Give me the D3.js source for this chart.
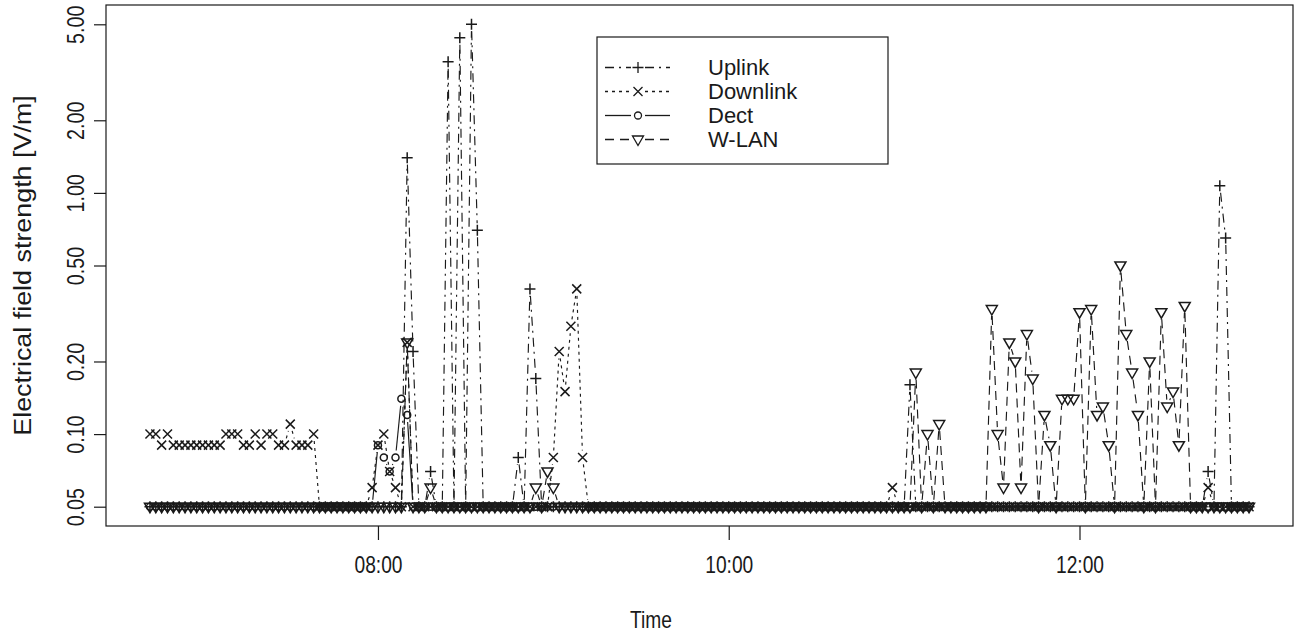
<!DOCTYPE html>
<html>
<head>
<meta charset="utf-8">
<script src="https://cdn.jsdelivr.net/npm/d3@7"></script>
<style>
  body { margin: 0; background: #fff; }
  svg text { font-family: "Liberation Sans", Arial, Helvetica, sans-serif; fill: #1a1a1a; }
</style>
</head>
<body>
<div id="chart"></div>
<script>
// readings taken every 2 minutes, 06:42 .. 12:58 (0.05 V/m = detection limit)
const startTime = "06:42";
const stepMinutes = 2;

// one row = half an hour (15 readings)
const uplink = [
  .05, .05, .05, .05, .05, .05, .05, .05, .05, .05, .05, .05, .05, .05, .05,
  .05, .05, .05, .05, .05, .05, .05, .05, .05, .05, .05, .05, .05, .05, .05,
  .05, .05, .05, .05, .05, .05, .05, .05, .05, .05, .05, .05, .05, .05, 1.4,
  .22, .05, .05, .07, .05, .05, 3.5, .05, 4.4, .05, 5.0, .70, .05, .05, .05,
  .05, .05, .05, .08, .05, .40, .17, .05, .05, .05, .05, .05, .05, .05, .05,
  .05, .05, .05, .05, .05, .05, .05, .05, .05, .05, .05, .05, .05, .05, .05,
  .05, .05, .05, .05, .05, .05, .05, .05, .05, .05, .05, .05, .05, .05, .05,
  .05, .05, .05, .05, .05, .05, .05, .05, .05, .05, .05, .05, .05, .05, .05,
  .05, .05, .05, .05, .05, .05, .05, .05, .05, .05, .16, .05, .05, .05, .05,
  .05, .05, .05, .05, .05, .05, .05, .05, .05, .05, .05, .05, .05, .05, .05,
  .05, .05, .05, .05, .05, .05, .05, .05, .05, .05, .05, .05, .05, .05, .05,
  .05, .05, .05, .05, .05, .05, .05, .05, .05, .05, .05, .05, .05, .05, .05,
  .05, .07, .05, 1.07, .65, .05, .05, .05, .05
];

const downlink = [
  .10, .10, .09, .10, .09, .09, .09, .09, .09, .09, .09, .09, .09, .10, .10,
  .10, .09, .09, .10, .09, .10, .10, .09, .09, .11, .09, .09, .09, .10, .05,
  .05, .05, .05, .05, .05, .05, .05, .05, .06, .09, .10, .07, .06, .05, .24,
  .05, .05, .05, .05, .05, .05, .05, .05, .05, .05, .05, .05, .05, .05, .05,
  .05, .05, .05, .05, .05, .05, .05, .05, .05, .08, .22, .15, .28, .40, .08,
  .05, .05, .05, .05, .05, .05, .05, .05, .05, .05, .05, .05, .05, .05, .05,
  .05, .05, .05, .05, .05, .05, .05, .05, .05, .05, .05, .05, .05, .05, .05,
  .05, .05, .05, .05, .05, .05, .05, .05, .05, .05, .05, .05, .05, .05, .05,
  .05, .05, .05, .05, .05, .05, .05, .06, .05, .05, .05, .05, .05, .05, .05,
  .05, .05, .05, .05, .05, .05, .05, .05, .05, .05, .05, .05, .05, .05, .05,
  .05, .05, .05, .05, .05, .05, .05, .05, .05, .05, .05, .05, .05, .05, .05,
  .05, .05, .05, .05, .05, .05, .05, .05, .05, .05, .05, .05, .05, .05, .05,
  .05, .06, .05, .05, .05, .05, .05, .05, .05
];

const dect = [
  .05, .05, .05, .05, .05, .05, .05, .05, .05, .05, .05, .05, .05, .05, .05,
  .05, .05, .05, .05, .05, .05, .05, .05, .05, .05, .05, .05, .05, .05, .05,
  .05, .05, .05, .05, .05, .05, .05, .05, .05, .09, .08, .07, .08, .14, .12,
  .05, .05, .05, .05, .05, .05, .05, .05, .05, .05, .05, .05, .05, .05, .05,
  .05, .05, .05, .05, .05, .05, .05, .05, .05, .05, .05, .05, .05, .05, .05,
  .05, .05, .05, .05, .05, .05, .05, .05, .05, .05, .05, .05, .05, .05, .05,
  .05, .05, .05, .05, .05, .05, .05, .05, .05, .05, .05, .05, .05, .05, .05,
  .05, .05, .05, .05, .05, .05, .05, .05, .05, .05, .05, .05, .05, .05, .05,
  .05, .05, .05, .05, .05, .05, .05, .05, .05, .05, .05, .05, .05, .05, .05,
  .05, .05, .05, .05, .05, .05, .05, .05, .05, .05, .05, .05, .05, .05, .05,
  .05, .05, .05, .05, .05, .05, .05, .05, .05, .05, .05, .05, .05, .05, .05,
  .05, .05, .05, .05, .05, .05, .05, .05, .05, .05, .05, .05, .05, .05, .05,
  .05, .05, .05, .05, .05, .05, .05, .05, .05
];

const wlan = [
  .05, .05, .05, .05, .05, .05, .05, .05, .05, .05, .05, .05, .05, .05, .05,
  .05, .05, .05, .05, .05, .05, .05, .05, .05, .05, .05, .05, .05, .05, .05,
  .05, .05, .05, .05, .05, .05, .05, .05, .05, .05, .05, .05, .05, .05, .24,
  .05, .05, .05, .06, .05, .05, .05, .05, .05, .05, .05, .05, .05, .05, .05,
  .05, .05, .05, .05, .05, .05, .06, .05, .07, .06, .05, .05, .05, .05, .05,
  .05, .05, .05, .05, .05, .05, .05, .05, .05, .05, .05, .05, .05, .05, .05,
  .05, .05, .05, .05, .05, .05, .05, .05, .05, .05, .05, .05, .05, .05, .05,
  .05, .05, .05, .05, .05, .05, .05, .05, .05, .05, .05, .05, .05, .05, .05,
  .05, .05, .05, .05, .05, .05, .05, .05, .05, .05, .05, .18, .05, .10, .05,
  .11, .05, .05, .05, .05, .05, .05, .05, .05, .33, .10, .06, .24, .20, .06,
  .26, .17, .05, .12, .09, .05, .14, .14, .14, .32, .05, .33, .12, .13, .09,
  .05, .50, .26, .18, .12, .05, .20, .05, .32, .13, .15, .09, .34, .05, .05,
  .05, .05, .05, .05, .05, .05, .05, .05, .05
];

const seriesNames = ["Uplink", "Downlink", "Dect", "W-LAN"];
const yTicks = [0.05, 0.1, 0.2, 0.5, 1, 2, 5];
const xTicks = ["08:00", "10:00", "12:00"];

// styles (R: lty 4 / 3 / 1 / 2, pch 3 / 4 / 1 / 6)
const styles = {
  "Uplink":   { dash: "9,5,2,5", shape: "plus" },
  "Downlink": { dash: "3,4",     shape: "cross" },
  "Dect":     { dash: null,      shape: "circle" },
  "W-LAN":    { dash: "9,6",     shape: "triangle" }
};

const W = 1295, H = 634;
const margin = { top: 5, right: 2, bottom: 108, left: 106 };
const width = W - margin.left - margin.right;
const height = H - margin.top - margin.bottom;
const ink = "#1a1a1a";

const parseTime = d3.timeParse("%H:%M");
const t0 = parseTime(startTime);
const times = uplink.map((d, i) => d3.timeMinute.offset(t0, i * stepMinutes));

const series = [uplink, downlink, dect, wlan].map((vals, k) => ({
  name: seriesNames[k],
  points: vals.map((v, i) => ({ t: times[i], v: v }))
}));

// R style 4% padding on both axes
const tMin = +times[0], tMax = +times[times.length - 1];
const tPad = 0.04 * (tMax - tMin);
const x = d3.scaleTime()
  .domain([new Date(tMin - tPad), new Date(tMax + tPad)])
  .range([0, width]);

const allVals = [].concat(uplink, downlink, dect, wlan);
const lo = Math.log10(d3.min(allVals)), hi = Math.log10(d3.max(allVals));
const lPad = 0.04 * (hi - lo);
const y = d3.scaleLog()
  .domain([Math.pow(10, lo - lPad), Math.pow(10, hi + lPad)])
  .range([height, 0]);

const svg = d3.select("#chart").append("svg")
  .attr("width", W)
  .attr("height", H);

const plot = svg.append("g")
  .attr("transform", `translate(${margin.left},${margin.top})`);

// marker shapes
function drawMarker(sel, shape) {
  if (shape === "circle") {
    sel.append("circle").attr("r", 3.5);
  } else {
    const paths = {
      plus: "M-5.5,0H5.5M0,-5.5V5.5",
      cross: "M-4.5,-4.5L4.5,4.5M-4.5,4.5L4.5,-4.5",
      triangle: "M-5.5,-3.5L5.5,-3.5L0,6Z"
    };
    sel.append("path").attr("d", paths[shape]);
  }
}

// type = "b": segments stop short of the points
const gap = 7;
function gapSegments(pts) {
  const segs = [];
  for (let i = 1; i < pts.length; i++) {
    const [x0, y0] = pts[i - 1], [x1, y1] = pts[i];
    const dx = x1 - x0, dy = y1 - y0, d = Math.hypot(dx, dy);
    if (d <= 2 * gap) continue;
    segs.push([x0 + dx / d * gap, y0 + dy / d * gap, x1 - dx / d * gap, y1 - dy / d * gap]);
  }
  return segs;
}

series.forEach(s => {
  const st = styles[s.name];
  const pts = s.points.map(p => [x(p.t), y(p.v)]);
  const grp = plot.append("g").attr("class", "series");

  grp.selectAll("line")
    .data(gapSegments(pts))
    .enter()
    .append("line")
    .attr("x1", d => d[0]).attr("y1", d => d[1])
    .attr("x2", d => d[2]).attr("y2", d => d[3])
    .attr("stroke", ink)
    .attr("stroke-width", 1.15)
    .attr("stroke-dasharray", st.dash);

  const marks = grp.selectAll("g.mark")
    .data(s.points)
    .enter()
    .append("g")
    .attr("class", "mark")
    .attr("transform", d => `translate(${x(d.t)},${y(d.v)})`)
    .attr("fill", "none")
    .attr("stroke", ink)
    .attr("stroke-width", 1.5);
  drawMarker(marks, st.shape);
});

// box
plot.append("rect")
  .attr("width", width)
  .attr("height", height)
  .attr("fill", "none")
  .attr("stroke", ink)
  .attr("stroke-width", 1.2);

// axes
const xAxis = plot.append("g")
  .attr("transform", `translate(0,${height})`)
  .call(d3.axisBottom(x)
    .tickValues(xTicks.map(parseTime))
    .tickFormat(d3.timeFormat("%H:%M"))
    .tickSize(14));
xAxis.select(".domain").remove();
xAxis.selectAll("line").attr("stroke", ink).attr("stroke-width", 1.2);
xAxis.selectAll("text")
  .attr("y", 30)
  .attr("transform", "scale(0.8,1)")
  .style("font-size", "24px")
  .attr("fill", ink);

const yAxis = plot.append("g")
  .call(d3.axisLeft(y)
    .tickValues(yTicks)
    .tickFormat(d3.format(".2f"))
    .tickSize(12));
yAxis.select(".domain").remove();
yAxis.selectAll("line").attr("stroke", ink).attr("stroke-width", 1.2);
yAxis.selectAll("text")
  .attr("x", null)
  .attr("dy", null)
  .attr("text-anchor", "middle")
  .attr("transform", "translate(-22,0) rotate(-90) scale(0.82,1)")
  .style("font-size", "24px")
  .attr("fill", ink);

// axis titles
svg.append("text")
  .attr("transform", `translate(31,${margin.top + height / 2}) rotate(-90) scale(1.12,1)`)
  .attr("text-anchor", "middle")
  .style("font-size", "24px")
  .text("Electrical field strength [V/m]");

svg.append("text")
  .attr("transform", `translate(651,628) scale(0.8,1)`)
  .attr("text-anchor", "middle")
  .style("font-size", "24px")
  .text("Time");

// legend
const legend = svg.append("g").attr("transform", "translate(597,37)");
legend.append("rect")
  .attr("width", 291)
  .attr("height", 127)
  .attr("fill", "#fff")
  .attr("stroke", ink)
  .attr("stroke-width", 1.2);

const rows = legend.selectAll("g.row")
  .data(seriesNames)
  .enter()
  .append("g")
  .attr("class", "row")
  .attr("transform", (d, i) => `translate(0,${30.5 + i * 24})`);

rows.each(function (name) {
  const row = d3.select(this);
  const st = styles[name];
  [[8, 41 - gap], [41 + gap, 73]].forEach(([a, b]) => {
    row.append("line")
      .attr("x1", a).attr("x2", b)
      .attr("stroke", ink)
      .attr("stroke-width", 1.3)
      .attr("stroke-dasharray", st.dash);
  });
  const m = row.append("g")
    .attr("transform", "translate(41,0)")
    .attr("fill", "none")
    .attr("stroke", ink)
    .attr("stroke-width", 1.3);
  drawMarker(m, st.shape);
  row.append("text")
    .attr("x", 111)
    .attr("dy", "0.35em")
    .style("font-size", "22px")
    .text(name);
});
</script>
</body>
</html>
